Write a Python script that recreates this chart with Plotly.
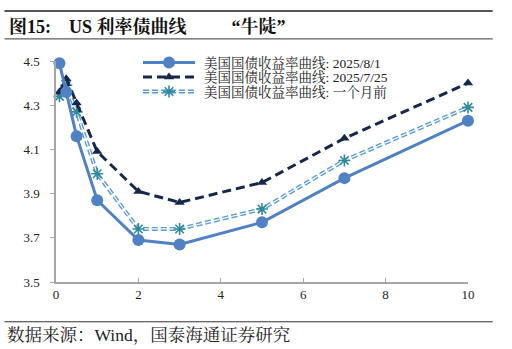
import plotly.graph_objects as go

tenors = [0.083, 0.25, 0.5, 1, 2, 3, 5, 7, 10]
y_0801 = [4.49, 4.36, 4.16, 3.87, 3.69, 3.67, 3.77, 3.97, 4.23]
y_0725 = [4.36, 4.42, 4.31, 4.09, 3.91, 3.86, 3.95, 4.15, 4.40]
y_month = [4.34, 4.39, 4.27, 3.99, 3.74, 3.74, 3.83, 4.05, 4.29]
names = ["美国国债收益率曲线: 2025/8/1", "美国国债收益率曲线: 2025/7/25", "美国国债收益率曲线: 一个月前"]
x_ticks = [0, 2, 4, 6, 8, 10]
y_ticks = [3.5, 3.7, 3.9, 4.1, 4.3, 4.5]

FONT = "Liberation Serif, Times New Roman, Noto Serif CJK SC, Noto Sans CJK SC, serif"
c1 = "#4f81c4"
c2 = "#16284a"
c3 = "#5b9bd5"
c3m = "#2f8a98"

star = dict(symbol="asterisk-open", size=10, color=c3m, line=dict(color=c3m, width=1.6))
tri = dict(symbol="triangle-up", size=9, color=c2)
circ = dict(symbol="circle", size=12, color=c1)

fig = go.Figure()
fig.add_trace(go.Scatter(x=tenors, y=y_month, mode="lines", name=names[2],
                         line=dict(color=c3, width=4, dash="6px,3px"), cliponaxis=False))
fig.add_trace(go.Scatter(x=tenors, y=y_month, mode="lines",
                         line=dict(color="white", width=1.2, dash="6px,3px"), hoverinfo="skip", cliponaxis=False))
fig.add_trace(go.Scatter(x=tenors, y=y_month, mode="markers", marker=star, cliponaxis=False))
fig.add_trace(go.Scatter(x=tenors, y=y_0725, mode="lines+markers", name=names[1],
                         line=dict(color=c2, width=3, dash="9px,5px"), marker=tri, cliponaxis=False))
fig.add_trace(go.Scatter(x=tenors, y=y_0801, mode="lines+markers", name=names[0],
                         line=dict(color=c1, width=3), marker=circ, cliponaxis=False))

# manual legend on a pixel-coordinate overlay axis (plot area spans x 56..468, y 61..282)
lx0, lx1, ltx = 143, 195, 202
rows = [62.5, 77, 91.5]
lx = [lx0, lx1]
fig.add_trace(go.Scatter(x=lx, y=[rows[0]] * 2, xaxis="x2", yaxis="y2", mode="lines",
                         line=dict(color=c1, width=3), hoverinfo="skip", cliponaxis=False))
fig.add_trace(go.Scatter(x=[(lx0 + lx1) / 2], y=[rows[0]], xaxis="x2", yaxis="y2", mode="markers",
                         marker=circ, hoverinfo="skip", cliponaxis=False))
fig.add_trace(go.Scatter(x=lx, y=[rows[1]] * 2, xaxis="x2", yaxis="y2", mode="lines",
                         line=dict(color=c2, width=3, dash="9px,5px"), hoverinfo="skip", cliponaxis=False))
fig.add_trace(go.Scatter(x=[(lx0 + lx1) / 2], y=[rows[1]], xaxis="x2", yaxis="y2", mode="markers",
                         marker=tri, hoverinfo="skip", cliponaxis=False))
fig.add_trace(go.Scatter(x=lx, y=[rows[2]] * 2, xaxis="x2", yaxis="y2", mode="lines",
                         line=dict(color=c3, width=4, dash="6px,3px"), hoverinfo="skip", cliponaxis=False))
fig.add_trace(go.Scatter(x=lx, y=[rows[2]] * 2, xaxis="x2", yaxis="y2", mode="lines",
                         line=dict(color="white", width=1.2, dash="6px,3px"), hoverinfo="skip", cliponaxis=False))
fig.add_trace(go.Scatter(x=[(lx0 + lx1) / 2], y=[rows[2]], xaxis="x2", yaxis="y2", mode="markers",
                         marker=star, hoverinfo="skip", cliponaxis=False))

legend_ann = [dict(text=n, xref="x2", yref="y2", x=ltx, y=r, xanchor="left", yanchor="middle",
                   showarrow=False, font=dict(size=13.5, family=FONT, color="#222222"))
              for n, r in zip(names, rows)]

sp = "&nbsp;"
title = "<b>图15:" + sp * 4 + "US 利率债曲线" + sp * 10 + "“牛陡”</b>"

fig.update_layout(
    width=512, height=349,
    margin=dict(l=56, r=44, t=61, b=67),
    paper_bgcolor="white", plot_bgcolor="white",
    font=dict(family=FONT, size=13, color="#222222"),
    showlegend=False,
    xaxis=dict(range=[0, 10], tickvals=x_ticks, ticktext=[str(v) for v in x_ticks],
               showgrid=False, zeroline=False, showline=True, linecolor="#a6a6a6", linewidth=1.5,
               ticks="inside", ticklen=4, tickcolor="#a6a6a6", tickfont=dict(size=13, family=FONT)),
    yaxis=dict(range=[3.5, 4.5], tickvals=y_ticks, ticktext=[f"{v:.1f}" for v in y_ticks],
               showgrid=False, zeroline=False, showline=True, linecolor="#a6a6a6", linewidth=1.5,
               ticks="outside", ticklen=4, tickcolor="#a6a6a6", ticklabelstandoff=8,
               tickfont=dict(size=13, family=FONT)),
    xaxis2=dict(overlaying="x", range=[56, 468], visible=False, fixedrange=True),
    yaxis2=dict(overlaying="y", range=[282, 61], visible=False, fixedrange=True),
    shapes=[
        dict(type="line", xref="paper", yref="paper", x0=-0.125, x1=1.06, y0=1.226, y1=1.226,
             line=dict(color="#555555", width=2)),
        dict(type="line", xref="paper", yref="paper", x0=-0.125, x1=1.06, y0=1.1, y1=1.1,
             line=dict(color="#333333", width=1)),
        dict(type="line", xref="paper", yref="paper", x0=-0.125, x1=1.06, y0=-0.18, y1=-0.18,
             line=dict(color="#333333", width=1)),
    ],
    annotations=[
        dict(text=title, xref="paper", yref="paper",
             x=-0.12, y=1.155, xanchor="left", yanchor="middle", showarrow=False,
             font=dict(size=18, family=FONT, color="#111111")),
        dict(text="数据来源：Wind，国泰海通证券研究", xref="paper", yref="paper",
             x=-0.125, y=-0.24, xanchor="left", yanchor="middle", showarrow=False,
             font=dict(size=17.5, family=FONT, color="#222222")),
    ] + legend_ann,
)

fig.write_html("out.html")
